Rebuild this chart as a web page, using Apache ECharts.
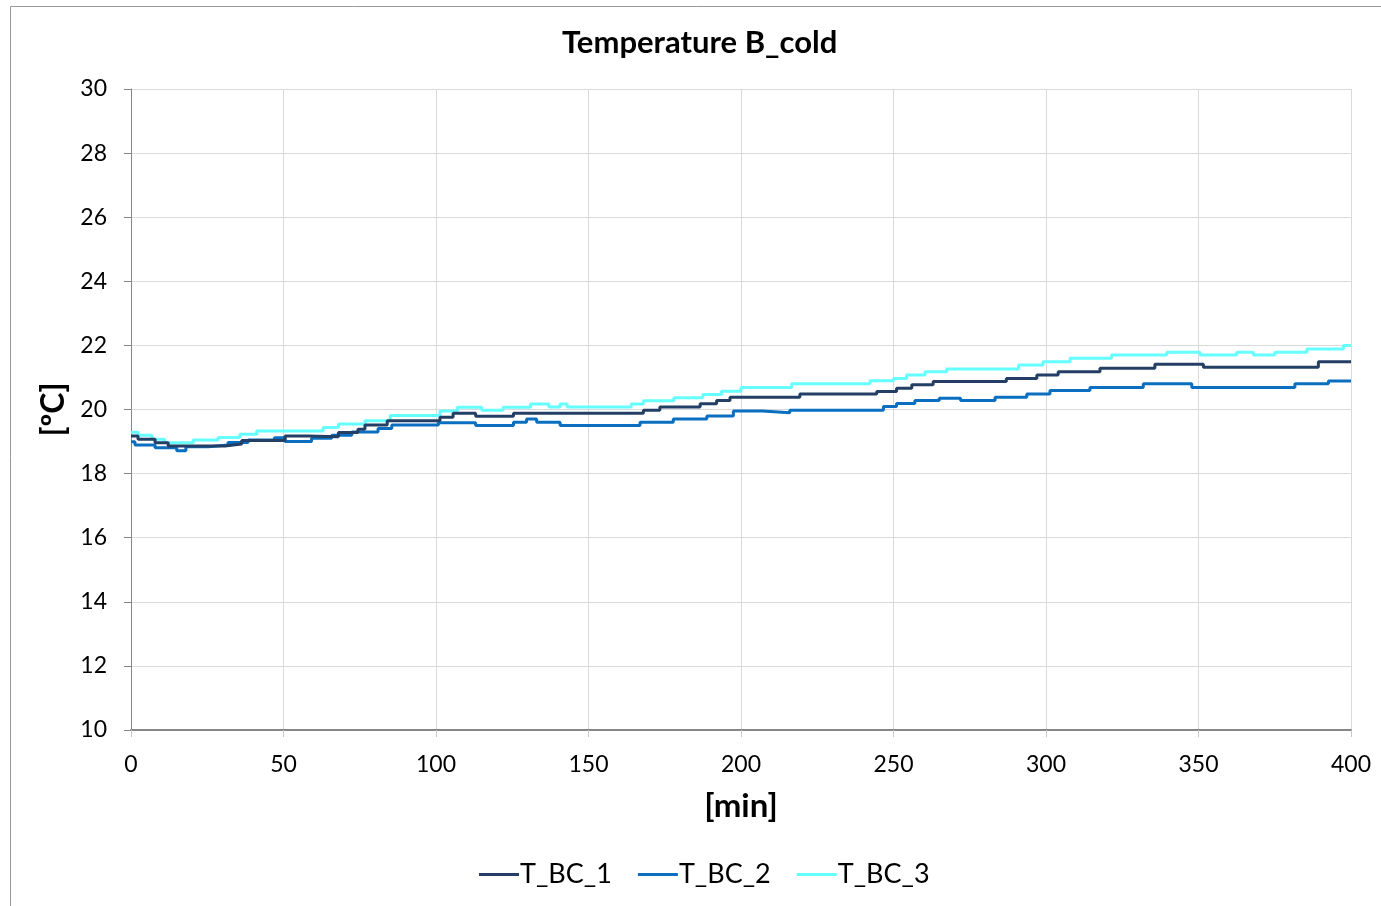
<!DOCTYPE html>
<html>
<head>
<meta charset="utf-8">
<script src="https://cdn.jsdelivr.net/npm/echarts@6/dist/echarts.min.js"></script>
<style>
html,body{margin:0;padding:0;background:#fff;}
#chart{width:1381px;height:906px;}
</style>
</head>
<body>
<div id="chart"></div>
<script>
const chartTitle = 'Temperature B_cold';
const seriesNames = ['T_BC_1', 'T_BC_2', 'T_BC_3'];
const xTicks = [0, 50, 100, 150, 200, 250, 300, 350, 400];
const yTicks = [10, 12, 14, 16, 18, 20, 22, 24, 26, 28, 30];

const bc1Time = [0, 2.3, 7.9, 12.2, 30.8, 36.3, 50.5, 58, 68, 74.4, 76.7, 84, 101.3, 105.6, 113, 125.4, 168, 173.4, 186.6, 192, 196.4, 219.3, 244.5, 251, 256, 263, 287, 297, 304, 317.7, 335.7, 351.6, 389.3, 400];
const bc1Temp = [19.17, 19.07, 18.96, 18.86, 18.92, 19.03, 19.17, 19.15, 19.28, 19.38, 19.52, 19.65, 19.76, 19.88, 19.79, 19.88, 19.98, 20.08, 20.18, 20.28, 20.38, 20.48, 20.56, 20.66, 20.77, 20.87, 20.97, 21.08, 21.18, 21.29, 21.41, 21.32, 21.49, 21.49];

const bc2Time = [0, 1.3, 7.9, 15, 18, 25.3, 31.8, 38.4, 47, 50.5, 59.2, 65.8, 72.4, 81, 85.5, 100.8, 113, 125.4, 129.7, 133, 140.7, 166.9, 177.8, 188.8, 197.5, 207, 216, 246.7, 251, 257, 265, 272, 283.3, 293.7, 301.3, 314.4, 331.9, 347.8, 381.6, 392.6, 400];
const bc2Temp = [18.99, 18.89, 18.81, 18.71, 18.84, 18.89, 18.97, 19.05, 19.12, 19.0, 19.1, 19.2, 19.3, 19.41, 19.52, 19.59, 19.5, 19.6, 19.7, 19.6, 19.5, 19.6, 19.7, 19.8, 19.95, 19.9, 19.98, 20.09, 20.19, 20.28, 20.35, 20.28, 20.38, 20.48, 20.59, 20.69, 20.8, 20.69, 20.8, 20.89, 20.89];

const bc3Time = [0, 2.3, 6.8, 11, 20.4, 28.6, 35.7, 41.2, 63, 68, 76.7, 85, 101.3, 107, 115, 122, 131, 137, 140.7, 143, 164, 168, 178, 187.5, 193.6, 200, 216.6, 242.3, 250, 254.3, 260.3, 267.4, 291, 299, 307.9, 321.5, 339.6, 350.5, 362.5, 368, 375, 385.5, 397.5, 400];
const bc3Temp = [19.29, 19.2, 19.07, 18.96, 19.05, 19.13, 19.23, 19.33, 19.44, 19.55, 19.65, 19.81, 19.95, 20.07, 19.98, 20.07, 20.17, 20.08, 20.17, 20.08, 20.17, 20.27, 20.37, 20.47, 20.57, 20.69, 20.8, 20.9, 20.97, 21.08, 21.18, 21.26, 21.39, 21.49, 21.6, 21.7, 21.79, 21.7, 21.79, 21.7, 21.79, 21.89, 22.0, 22.0];

const colors = ['#243F66', '#0A6FC0', '#66FFFF'];
const FONT = 'Lato';

function pairs(t, v) { return t.map((x, i) => [x, v[i]]); }
const allData = [pairs(bc1Time, bc1Temp), pairs(bc2Time, bc2Temp), pairs(bc3Time, bc3Temp)];

const chart = echarts.init(document.getElementById('chart'), null, {renderer: 'canvas'});
chart.setOption({
  animation: false,
  backgroundColor: '#fff',
  color: colors,
  graphic: [{
    type: 'rect', z: -10, silent: true,
    shape: {x: 10.5, y: 6.5, width: 1500, height: 1000},
    style: {fill: 'none', stroke: '#999', lineWidth: 1}
  }],
  title: {
    text: chartTitle, left: 562, top: 27, padding: 0,
    textStyle: {fontFamily: FONT, fontSize: 31, fontWeight: 'bold', color: '#000'}
  },
  legend: {
    bottom: 13, left: 474,
    itemWidth: 40, itemHeight: 3, itemGap: 26, icon: 'rect',
    textStyle: {fontFamily: FONT, fontSize: 27, color: '#000', padding: [0, 0, 0, -4]},
    data: seriesNames
  },
  grid: {left: 131, right: 30, top: 89, bottom: 176, containLabel: false},
  xAxis: {
    type: 'value', min: 0, max: 400, interval: 50,
    name: '[min]', nameLocation: 'middle', nameGap: 60,
    nameTextStyle: {fontFamily: FONT, fontSize: 33, fontWeight: 'bold', color: '#000'},
    axisLine: {lineStyle: {color: '#868686', width: 2}},
    axisTick: {show: true, length: 7, lineStyle: {color: '#c8c8c8'}},
    axisLabel: {fontFamily: FONT, fontSize: 23, color: '#000', margin: 23},
    splitLine: {show: true, lineStyle: {color: '#d9d9d9', width: 1}}
  },
  yAxis: {
    type: 'value', min: 10, max: 30, interval: 2,
    name: '[ºC]', nameLocation: 'middle', nameGap: 60, nameRotate: 90,
    nameTextStyle: {fontFamily: FONT, fontSize: 32, fontWeight: 'bold', color: '#000'},
    axisLine: {show: true, lineStyle: {color: '#868686', width: 1}},
    axisTick: {show: true, length: 7, lineStyle: {color: '#868686'}},
    axisLabel: {fontFamily: FONT, fontSize: 23, color: '#000', margin: 24},
    splitLine: {show: true, lineStyle: {color: '#d9d9d9', width: 1}}
  },
  series: seriesNames.map((n, i) => ({
    name: n, type: 'line', step: 'end', showSymbol: false, symbol: 'none',
    data: allData[i],
    lineStyle: {width: 3, color: colors[i]},
    itemStyle: {color: colors[i]},
    z: 3 - i
  }))
});
</script>
</body>
</html>
